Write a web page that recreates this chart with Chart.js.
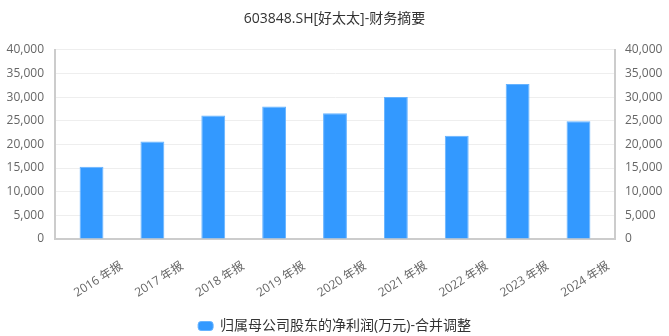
<!DOCTYPE html>
<html>
<head>
<meta charset="utf-8">
<script src="https://cdn.jsdelivr.net/npm/chart.js@4/dist/chart.umd.min.js"></script>
<style>
  html, body { margin: 0; padding: 0; background: #fff; }
  #wrap { width: 669px; height: 336px; }
</style>
</head>
<body>
<div id="wrap"><canvas id="barChart" width="669" height="336"></canvas></div>
<script>
var categories = ['2016 年报', '2017 年报', '2018 年报', '2019 年报', '2020 年报', '2021 年报', '2022 年报', '2023 年报', '2024 年报'];
var netProfit = [15250, 20600, 26100, 28000, 26600, 30000, 21850, 32750, 24900];
var tickValues = [0, 5000, 10000, 15000, 20000, 25000, 30000, 35000, 40000];

var fontFamily = '"Open Sans", "Noto Sans CJK SC", sans-serif';

function fmt(v) {
    return v.toLocaleString('en-US');
}

function fixTicks(scale) {
    scale.ticks = tickValues.map(function (v) { return { value: v }; });
}

var ctx = document.getElementById("barChart").getContext("2d");

new Chart(ctx, {
    type: 'bar',
    data: {
        datasets: [{
            label: '归属母公司股东的净利润(万元)-合并调整',
            backgroundColor: '#3399ff',
            borderColor: '#66b3ff',
            borderWidth: 1,
            barPercentage: 0.8,
            categoryPercentage: 0.49,
            data: netProfit.map(function (v, i) { return { x: i, y: v }; })
        }]
    },
    options: {
        responsive: false,
        animation: false,
        layout: { padding: { left: 0, right: 0, top: 0, bottom: -7 } },
        plugins: {
            title: {
                display: true,
                text: '603848.SH[好太太]-财务摘要',
                color: '#333',
                font: { family: fontFamily, size: 14, weight: 'normal' },
                padding: { top: 11, bottom: 22 }
            },
            legend: {
                position: 'bottom',
                labels: {
                    color: '#333',
                    font: { family: fontFamily, size: 14 },
                    boxWidth: 15,
                    boxHeight: 9,
                    useBorderRadius: true,
                    borderRadius: 3,
                    padding: 3
                }
            },
            tooltip: { enabled: false }
        },
        scales: {
            x: {
                type: 'linear',
                min: -0.6,
                max: categories.length - 0.4,
                offset: false,
                afterBuildTicks: function (scale) {
                    scale.ticks = categories.map(function (c, i) { return { value: i }; });
                },
                grid: { display: false },
                border: { color: '#ccc', width: 2 },
                ticks: {
                    color: '#666',
                    font: { family: fontFamily, size: 12 },
                    minRotation: 32,
                    maxRotation: 32,
                    padding: 12,
                    labelOffset: 30,
                    autoSkip: false,
                    callback: function (v) { return categories[v]; }
                },
                afterFit: function (s) { s.height = 77; }
            },
            y: {
                position: 'left',
                min: 0,
                max: 40000,
                afterBuildTicks: fixTicks,
                grid: { color: '#eeeeee', drawTicks: false },
                border: { color: '#ccc', width: 2 },
                ticks: {
                    color: '#666',
                    font: { family: fontFamily, size: 12 },
                    padding: 11,
                    callback: fmt
                },
                afterFit: function (s) { s.width = 55; }
            },
            y1: {
                position: 'right',
                min: 0,
                max: 40000,
                afterBuildTicks: fixTicks,
                grid: { display: false, drawTicks: false },
                border: { color: '#ccc', width: 2 },
                ticks: {
                    color: '#666',
                    font: { family: fontFamily, size: 12 },
                    padding: 10,
                    callback: fmt
                },
                afterFit: function (s) { s.width = 54; }
            }
        }
    }
});
</script>
</body>
</html>
